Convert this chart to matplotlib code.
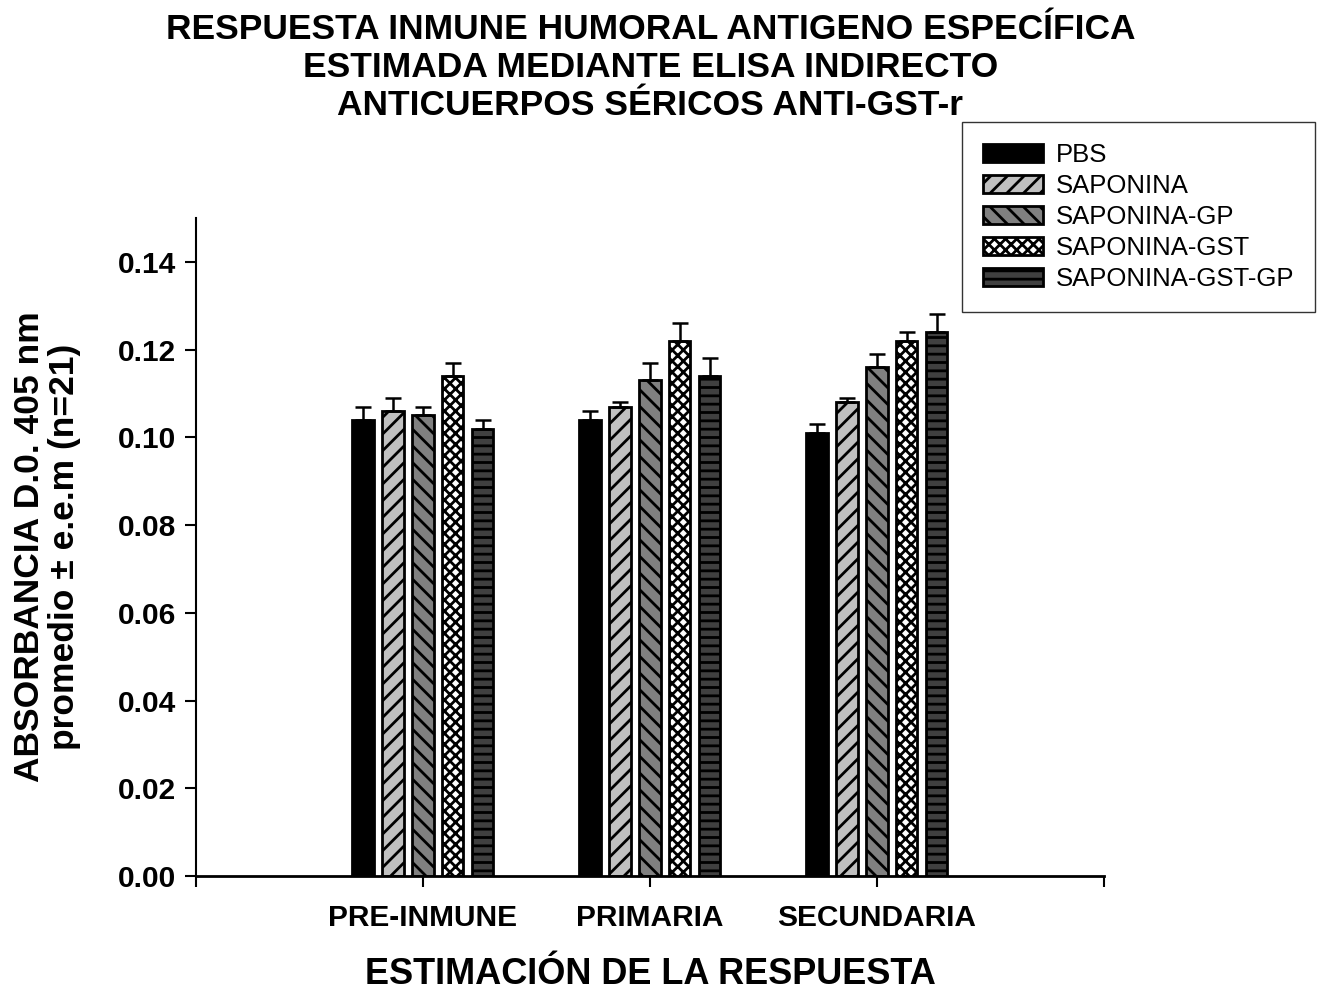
import numpy as np
import matplotlib
matplotlib.use("Agg")
import matplotlib.pyplot as plt

plt.rcParams['font.family'] = ['Liberation Sans', 'DejaVu Sans']
plt.rcParams['hatch.linewidth'] = 2.0

groups = ["PRE-INMUNE", "PRIMARIA", "SECUNDARIA"]
series = ["PBS", "SAPONINA", "SAPONINA-GP", "SAPONINA-GST", "SAPONINA-GST-GP"]

pbs = [0.104, 0.104, 0.101]
saponina = [0.106, 0.107, 0.108]
saponina_gp = [0.105, 0.113, 0.116]
saponina_gst = [0.114, 0.122, 0.122]
saponina_gst_gp = [0.102, 0.114, 0.124]

err_pbs = [0.003, 0.002, 0.002]
err_saponina = [0.003, 0.001, 0.001]
err_saponina_gp = [0.002, 0.004, 0.003]
err_saponina_gst = [0.003, 0.004, 0.002]
err_saponina_gst_gp = [0.002, 0.004, 0.004]

values = [pbs, saponina, saponina_gp, saponina_gst, saponina_gst_gp]
errors = [err_pbs, err_saponina, err_saponina_gp, err_saponina_gst, err_saponina_gst_gp]

colors = ["#000000", "#c0c0c0", "#808080", "#ffffff", "#404040"]
hatches = [None, "//", "\\\\", "xxx", "--"]

fig = plt.figure(figsize=(13.18, 9.94), dpi=100)
ax = fig.add_axes([0.1487, 0.1187, 0.6889, 0.662])

x = np.arange(1, 4)
step = 0.132
width = 0.093
for i in range(5):
    pos = x + (i - 2) * step
    ax.bar(pos, values[i], width, color=colors[i], edgecolor="black",
           linewidth=2, hatch=hatches[i], label=series[i], zorder=2)
    ax.errorbar(pos, values[i], yerr=[np.zeros(3), errors[i]], fmt="none",
                ecolor="black", elinewidth=1.8, capsize=6, capthick=1.8, zorder=3)

ax.set_xlim(0, 4)
ax.set_ylim(0, 0.15)
ax.set_xticks([0, 1, 2, 3, 4])
ax.set_xticklabels(["", groups[0], groups[1], groups[2], ""])
ax.set_yticks(np.arange(0, 0.141, 0.02))
ax.set_yticklabels(["%.2f" % v for v in np.arange(0, 0.141, 0.02)])
for lab in ax.get_xticklabels() + ax.get_yticklabels():
    lab.set_fontweight("bold")
    lab.set_fontsize(21.5)
ax.tick_params(axis="both", direction="out", length=8, width=1.5)
ax.tick_params(axis="x", pad=12)
ax.tick_params(axis="y", pad=6)
ax.spines["top"].set_visible(False)
ax.spines["right"].set_visible(False)
ax.spines["left"].set_linewidth(1.5)
ax.spines["bottom"].set_linewidth(2)

ax.set_xlabel("ESTIMACIÓN DE LA RESPUESTA", fontsize=26, fontweight="bold", va="center")
ax.xaxis.set_label_coords(0.5, -0.150)
ax.set_ylabel("ABSORBANCIA D.0. 405 nm\npromedio ± e.e.m (n=21)", fontsize=25.5,
              fontweight="bold", linespacing=1.1, va="center")
ax.yaxis.set_label_coords(-(196 - 47) / 908, 0.5)

fig.text(0.4935, 0.987,
         "RESPUESTA INMUNE HUMORAL ANTIGENO ESPECÍFICA\nESTIMADA MEDIANTE ELISA INDIRECTO\nANTICUERPOS SÉRICOS ANTI-GST-r",
         ha="center", va="top", fontsize=25.5, fontweight="bold", linespacing=1.2)

leg = fig.legend(loc="upper left", bbox_to_anchor=(962 / 1318, 1 - 122 / 994),
                 fontsize=18.5, frameon=True, fancybox=False, edgecolor="black",
                 handlelength=2.35, handleheight=0.7, labelspacing=0.28,
                 borderpad=0.8, handletextpad=0.5, borderaxespad=0)
leg.get_frame().set_linewidth(1.0)

fig.savefig("out.png", dpi=100)
